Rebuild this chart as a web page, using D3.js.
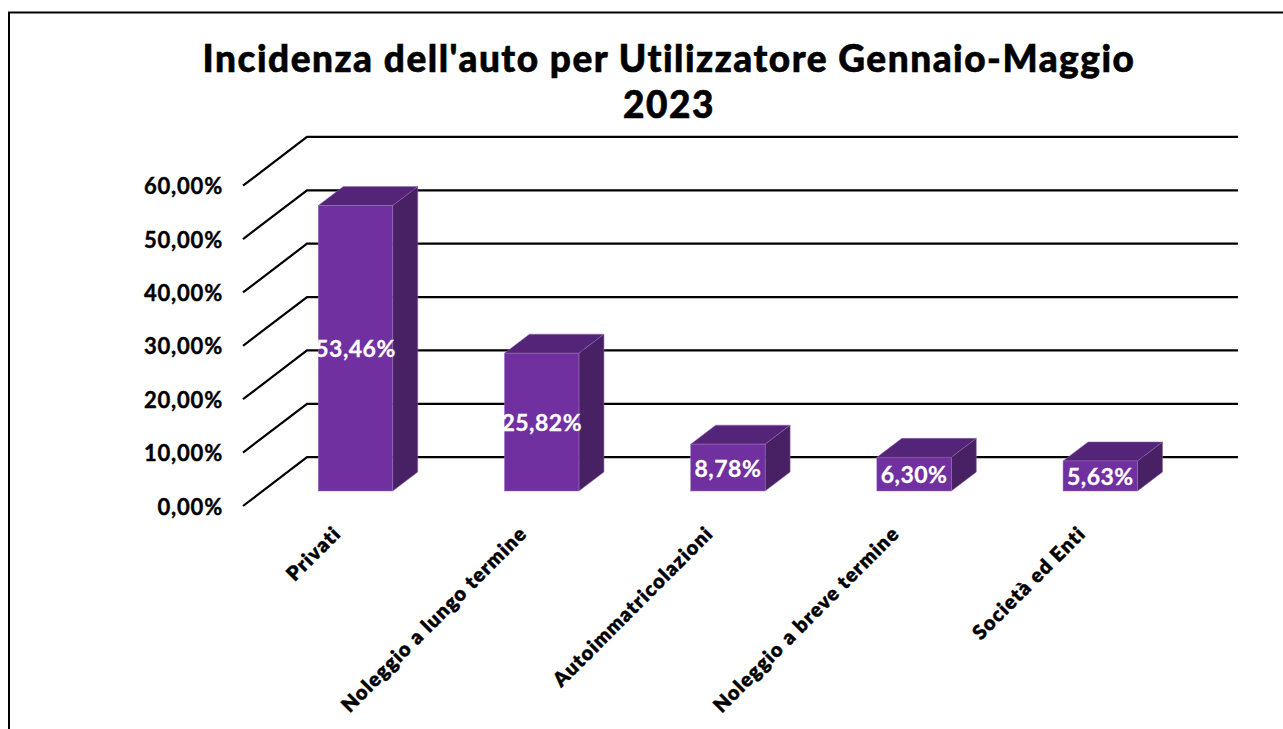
<!DOCTYPE html>
<html>
<head>
<meta charset="utf-8">
<script src="https://cdn.jsdelivr.net/npm/d3@7"></script>
<style>
  body { margin: 0; background: #fff; }
  text { font-family: Lato, sans-serif; font-weight: 700; }
</style>
</head>
<body>
<div id="chart"></div>
<script>
const categories = ['Privati', 'Noleggio a lungo termine', 'Autoimmatricolazioni', 'Noleggio a breve termine', 'Società ed Enti'];
const values = [53.46, 25.82, 8.78, 6.30, 5.63];
const yTicks = [0, 10, 20, 30, 40, 50, 60];
const titleLines = ["Incidenza dell'auto per Utilizzatore Gennaio-Maggio", '2023'];

const width = 1283;
const height = 729;

// depth of the floor, and how far into it the bars sit
const depth = { dx: 64, dy: -48.8 };
const barOffset = { dx: 19.4, dy: -15 };
const barDepth = { dx: 25, dy: -19 };

const fmt = v => v.toFixed(2).replace('.', ',') + '%';

const x = d3.scaleBand().domain(categories).range([243, 1174]).paddingInner(0.6).paddingOuter(0.3);
const y = d3.scaleLinear().domain([0, 60]).range([506, 185.7]);

const svg = d3.select('#chart').append('svg')
  .attr('width', width)
  .attr('height', height)
  .style('display', 'block');

// frame, only top and left fall inside the picture
svg.append('path')
  .attr('d', d3.line()([[9, height], [9, 12.5], [width, 12.5]]))
  .attr('fill', 'none')
  .attr('stroke', '#000')
  .attr('stroke-width', 2);

svg.append('g').selectAll('text')
  .data(titleLines)
  .enter().append('text')
  .attr('x', 669)
  .attr('y', (d, i) => 72 + i * 46)
  .attr('text-anchor', 'middle')
  .attr('font-size', 37)
  .style('font-weight', 900)
  .attr('letter-spacing', 1.5)
  .attr('fill', '#000')
  .attr('stroke', '#000')
  .attr('stroke-width', 0.6)
  .text(d => d);

// grid: diagonal wall edge plus the back line
const grid = svg.append('g').attr('id', 'grid');
grid.selectAll('path')
  .data(yTicks)
  .enter().append('path')
  .attr('d', d => d3.line()([
    [x.range()[0], y(d)],
    [x.range()[0] + depth.dx, y(d) + depth.dy],
    [x.range()[1] + depth.dx, y(d) + depth.dy]
  ]))
  .attr('fill', 'none')
  .attr('stroke', '#000')
  .attr('stroke-width', 2.2);

const yAxis = svg.append('g')
  .attr('transform', 'translate(243,1)')
  .call(d3.axisLeft(y).tickValues(yTicks).tickFormat(fmt).tickSize(0).tickPadding(20));
yAxis.select('.domain').remove();
yAxis.selectAll('text')
  .attr('font-size', 22)
  .attr('letter-spacing', 0.8)
  .attr('fill', '#000')
  .attr('stroke', '#000')
  .attr('stroke-width', 0.4);

const bars = svg.append('g').attr('id', 'bars').selectAll('g')
  .data(categories.map((c, i) => ({ c, v: values[i] })))
  .enter().append('g');

const fx = d => x(d.c) + barOffset.dx;
const fy = d => y(d.v) + barOffset.dy;
const by = () => y(0) + barOffset.dy;

// top face
bars.append('path')
  .attr('d', d => d3.line()([
    [fx(d), fy(d)],
    [fx(d) + barDepth.dx, fy(d) + barDepth.dy],
    [fx(d) + x.bandwidth() + barDepth.dx, fy(d) + barDepth.dy],
    [fx(d) + x.bandwidth(), fy(d)]
  ]) + 'Z')
  .attr('fill', '#542478')
  .attr('stroke', '#8f6bb0')
  .attr('stroke-width', 0.5);

// side face
bars.append('path')
  .attr('d', d => d3.line()([
    [fx(d) + x.bandwidth(), fy(d)],
    [fx(d) + x.bandwidth() + barDepth.dx, fy(d) + barDepth.dy],
    [fx(d) + x.bandwidth() + barDepth.dx, by() + barDepth.dy],
    [fx(d) + x.bandwidth(), by()]
  ]) + 'Z')
  .attr('fill', '#482064')
  .attr('stroke', '#8f6bb0')
  .attr('stroke-width', 0.5);

// front face
bars.append('rect')
  .attr('x', fx)
  .attr('y', fy)
  .attr('width', x.bandwidth())
  .attr('height', d => by() - fy(d))
  .attr('fill', '#7030a0')
  .attr('stroke', '#9a72bc')
  .attr('stroke-width', 0.5);

bars.append('text')
  .attr('x', d => fx(d) + x.bandwidth() / 2)
  .attr('y', d => (fy(d) + by()) / 2 + 9)
  .attr('text-anchor', 'middle')
  .attr('font-size', 23)
  .attr('letter-spacing', 0.5)
  .attr('fill', '#fff')
  .attr('stroke', '#fff')
  .attr('stroke-width', 0.3)
  .text(d => fmt(d.v));

// category labels, rotated 45 degrees and hanging from their end
svg.append('g').attr('id', 'labels').selectAll('text')
  .data(categories)
  .enter().append('text')
  .attr('transform', d => `translate(${x(d) + x.bandwidth() / 2 - 4},525) rotate(-45)`)
  .attr('text-anchor', 'end')
  .attr('dy', '0.7em')
  .attr('font-size', 20)
  .style('font-weight', 800)
  .attr('letter-spacing', 1.1)
  .attr('fill', '#000')
  .attr('stroke', '#000')
  .attr('stroke-width', 0.4)
  .text(d => d);
</script>
</body>
</html>
